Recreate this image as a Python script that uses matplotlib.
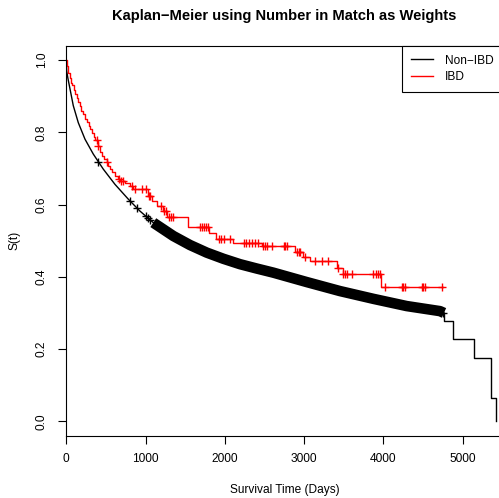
import numpy as np
import matplotlib
matplotlib.use("Agg")
import matplotlib.pyplot as plt
from matplotlib.lines import Line2D

plt.rcParams['font.family'] = ['Liberation Sans', 'DejaVu Sans']

# ---- data ----
# Non-IBD (black): dense KM curve, knots (time, survival)
black_time = [0, 5, 20, 47, 88, 151, 236, 340, 467, 614, 782, 929, 1097, 1350,
              1560, 1771, 1980, 2190, 2400, 2611, 3031, 3451, 3872, 4292, 4712, 4763]
black_surv = [1.0, 0.97, 0.95, 0.92, 0.874, 0.827, 0.781, 0.740, 0.698, 0.656,
              0.615, 0.582, 0.550, 0.513, 0.488, 0.467, 0.450, 0.435, 0.423,
              0.4115, 0.3855, 0.3605, 0.339, 0.319, 0.305, 0.300]
# sparse tail steps of the black curve
black_tail_time = [4763, 4872, 5137, 5351, 5414]
black_tail_surv = [0.277, 0.2266, 0.174, 0.065, 0.0]
# individually visible censor marks of the black curve
black_cens = [404, 803, 888, 1000, 1030, 1060, 4755]
# range where the black censor marks merge into a solid band
black_band = [1097, 4763]

# IBD (red): step function (time of drop, survival after drop)
red_time = [0, 10, 25, 45, 59, 75, 95, 115, 131, 150, 170, 190, 210, 236, 260,
            285, 305, 328, 345, 362, 395, 430, 446, 480, 509, 530, 551, 580,
            614, 650, 680, 740, 803, 845, 1034, 1077, 1140, 1224, 1266, 1539,
            1800, 1885, 2106, 2464, 2884, 2989, 3073, 3410, 3485, 3966, 4754]
red_surv = [1.0, 0.985, 0.965, 0.950, 0.938, 0.930, 0.918, 0.905, 0.895, 0.885,
            0.872, 0.860, 0.850, 0.838, 0.828, 0.818, 0.808, 0.797, 0.788,
            0.780, 0.762, 0.745, 0.735, 0.725, 0.717, 0.707, 0.698, 0.690,
            0.679, 0.672, 0.666, 0.659, 0.652, 0.643, 0.624, 0.610, 0.596,
            0.582, 0.567, 0.538, 0.522, 0.504, 0.495, 0.485, 0.470, 0.456,
            0.444, 0.425, 0.408, 0.373, 0.373]
red_cens = [383, 404, 509, 660, 690, 719, 830, 870, 960, 1000, 1040, 1060, 1200,
            1230, 1260, 1290, 1320, 1350, 1690, 1715, 1740, 1765, 1790, 1920,
            1950, 1990, 2060, 2235, 2270, 2310, 2345, 2380, 2415, 2485, 2510,
            2535, 2590, 2740, 2760, 2780, 2905, 2930, 2950, 3010, 3140, 3220,
            3305, 3430, 3495, 3520, 3545, 3600, 3870, 3900, 3930, 3955, 4025,
            4230, 4250, 4270, 4480, 4500, 4520, 4735]

x_ticks = [0, 1000, 2000, 3000, 4000, 5000]
y_ticks = [0.0, 0.2, 0.4, 0.6, 0.8, 1.0]
y_ticklabels = ["0.0", "0.2", "0.4", "0.6", "0.8", "1.0"]
legend_labels = ["Non\u2212IBD", "IBD"]
series_colors = ["black", "red"]

# ---- figure ----
W, H = 499, 498
fig = plt.figure(figsize=(W / 100, H / 100), dpi=100)
left_px, right_px, top_px, bot_px = 66.3, 503.0, 45.7, 435.7
ax = fig.add_axes([left_px / W, 1 - bot_px / H, (right_px - left_px) / W,
                   (bot_px - top_px) / H])

bt = np.array(black_time, float)
bs = np.array(black_surv, float)
ax.plot(bt, bs, color=series_colors[0], lw=1.0)
ax.step([bt[-1]] + black_tail_time, [bs[-1]] + black_tail_surv, where='post',
        color=series_colors[0], lw=1.0)
m = (bt >= black_band[0]) & (bt <= black_band[1])
ax.plot(bt[m], bs[m], color=series_colors[0], lw=7.6, solid_capstyle='butt',
        solid_joinstyle='round')
bc = np.array(black_cens, float)
ax.plot(bc, np.interp(bc, bt, bs), ls='none', marker='+', ms=6, mew=1.0,
        color=series_colors[0])

rt = np.array(red_time, float)
rs = np.array(red_surv, float)
ax.step(rt, rs, where='post', color=series_colors[1], lw=1.0)
rc = np.array(red_cens, float)
idx = np.searchsorted(rt, rc, side='right') - 1
ax.plot(rc, rs[idx], ls='none', marker='+', ms=6, mew=1.0,
        color=series_colors[1])

ax.set_xlim(0, 5507)
ax.set_ylim(-0.04, 1.04)
ax.set_xticks(x_ticks)
ax.set_xticklabels([str(v) for v in x_ticks])
ax.set_yticks(y_ticks)
ax.set_yticklabels(y_ticklabels, rotation=90, va='center')
ax.tick_params(axis='both', direction='out', length=5.5, width=0.8,
               labelsize=8.6, colors='black')
ax.tick_params(axis='x', pad=7)
ax.tick_params(axis='y', pad=8)
for s in ax.spines.values():
    s.set_linewidth(0.8)
    s.set_color('black')

handles = [Line2D([], [], color=c, lw=1.0) for c in series_colors]
leg = ax.legend(handles, legend_labels, loc='upper right',
                bbox_to_anchor=(1, 1), borderaxespad=0, fancybox=False,
                framealpha=1, edgecolor='black', fontsize=8.6,
                handlelength=1.9, handletextpad=1.0, borderpad=0.75,
                labelspacing=0.35)
leg.get_frame().set_linewidth(0.8)

fig.text((left_px + right_px) / 2 / W, 1 - 16 / H,
         "Kaplan\u2212Meier using Number in Match as Weights",
         ha='center', va='center', fontsize=10.6, fontweight='bold')
fig.text((left_px + right_px) / 2 / W, 1 - 490 / H, "Survival Time (Days)",
         ha='center', va='center', fontsize=8.6)
fig.text(14.5 / W, 1 - 240.7 / H, "S(t)", ha='center', va='center',
         rotation=90, fontsize=8.6)

fig.savefig("out.png", dpi=100)
